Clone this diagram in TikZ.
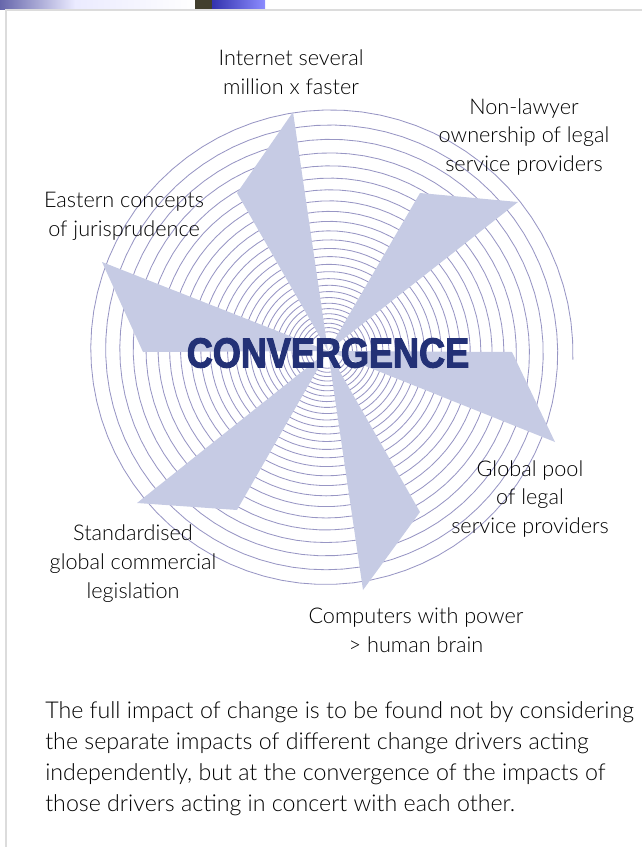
\documentclass[tikz,border=0pt]{standalone}
\usepackage{fontspec}
\setmainfont{Lato}[UprightFont=* Light]
\newfontfamily\headfont{Liberation Sans}[UprightFont=* Bold,FakeBold=2.4,FakeStretch=0.86]
\definecolor{ringline}{HTML}{9896C4}
\definecolor{bladefill}{HTML}{C6CBE4}
\definecolor{navy}{HTML}{233176}
\definecolor{framegray}{HTML}{DCDCDC}

\begin{document}
\begin{tikzpicture}[x=0.025cm, y=-0.025cm,
    ring/.style={draw=ringline, line width=0.6pt},
    blade/.style={fill=bladefill},
    lbl/.style={align=center, inner sep=0pt, font=\fontsize{15.4}{20.6}\selectfont},
    para/.style={align=left, inner sep=0pt, font=\fontsize{16.5}{22.2}\selectfont},
    head/.style={inner sep=0pt, text=navy, font=\headfont\fontsize{29.8}{30}\selectfont}]
  \useasboundingbox (0,0) rectangle (642,847);

  % banner strip and frame
  \shade[left color=black!55!blue!60, right color=blue!8] (0,0) rectangle (75,10);
  \shade[left color=blue!8, right color=white] (75,0) rectangle (195,10);
  \fill[black!70!olive] (195,0) rectangle (212,10);
  \shade[left color=blue!60!black!80, right color=blue!45] (212,0) rectangle (265,10);
  \draw[framegray, line width=1pt] (642,10) -- (6,10) -- (6,847);

  % the rings, one long spiral
  \coordinate (ctr) at (328,351);
  \draw[ring] plot[domain=0:27, samples=2200]
    ({328 + (305*0.95^\x - 60)*cos(-2 + 360*\x)},
     {351 - (305*0.95^\x - 60)*sin(-2 + 360*\x)});

  % six blades
  \fill[blade] (ctr) -- (237,193) -- (293,112) -- cycle;
  \fill[blade] (ctr) -- (420,193) -- (518,202) -- cycle;
  \fill[blade] (ctr) -- (512,352) -- (555,442) -- cycle;
  \fill[blade] (ctr) -- (420,512) -- (363,590) -- cycle;
  \fill[blade] (ctr) -- (137,503) -- (237,510) -- cycle;
  \fill[blade] (ctr) -- (102,262) -- (143,352) -- cycle;

  \node[head] (conv) at (328,353) {CONVERGENCE};

  \node[lbl] (internet) at (291,72) {Internet several\\million x faster};
  \node[lbl] (owner) at (524,137) {Non-lawyer\\ownership of legal\\service providers};
  \node[lbl] (eastern) at (124,216) {Eastern concepts\\of jurisprudence};
  \node[lbl] (pool) at (530,499) {Global pool\\of legal\\service providers};
  \node[lbl] (standard) at (133,564) {Standardised\\global commercial\\legislation};
  \node[lbl] (brain) at (416,630) {Computers with power\\> human brain};

  \node[para, anchor=north west] (note) at (45,701)
    {The full impact of change is to be found not by considering\\
     the separate impacts of different change drivers acting\\
     independently, but at the convergence of the impacts of\\
     those drivers acting in concert with each other.};
\end{tikzpicture}
\end{document}
